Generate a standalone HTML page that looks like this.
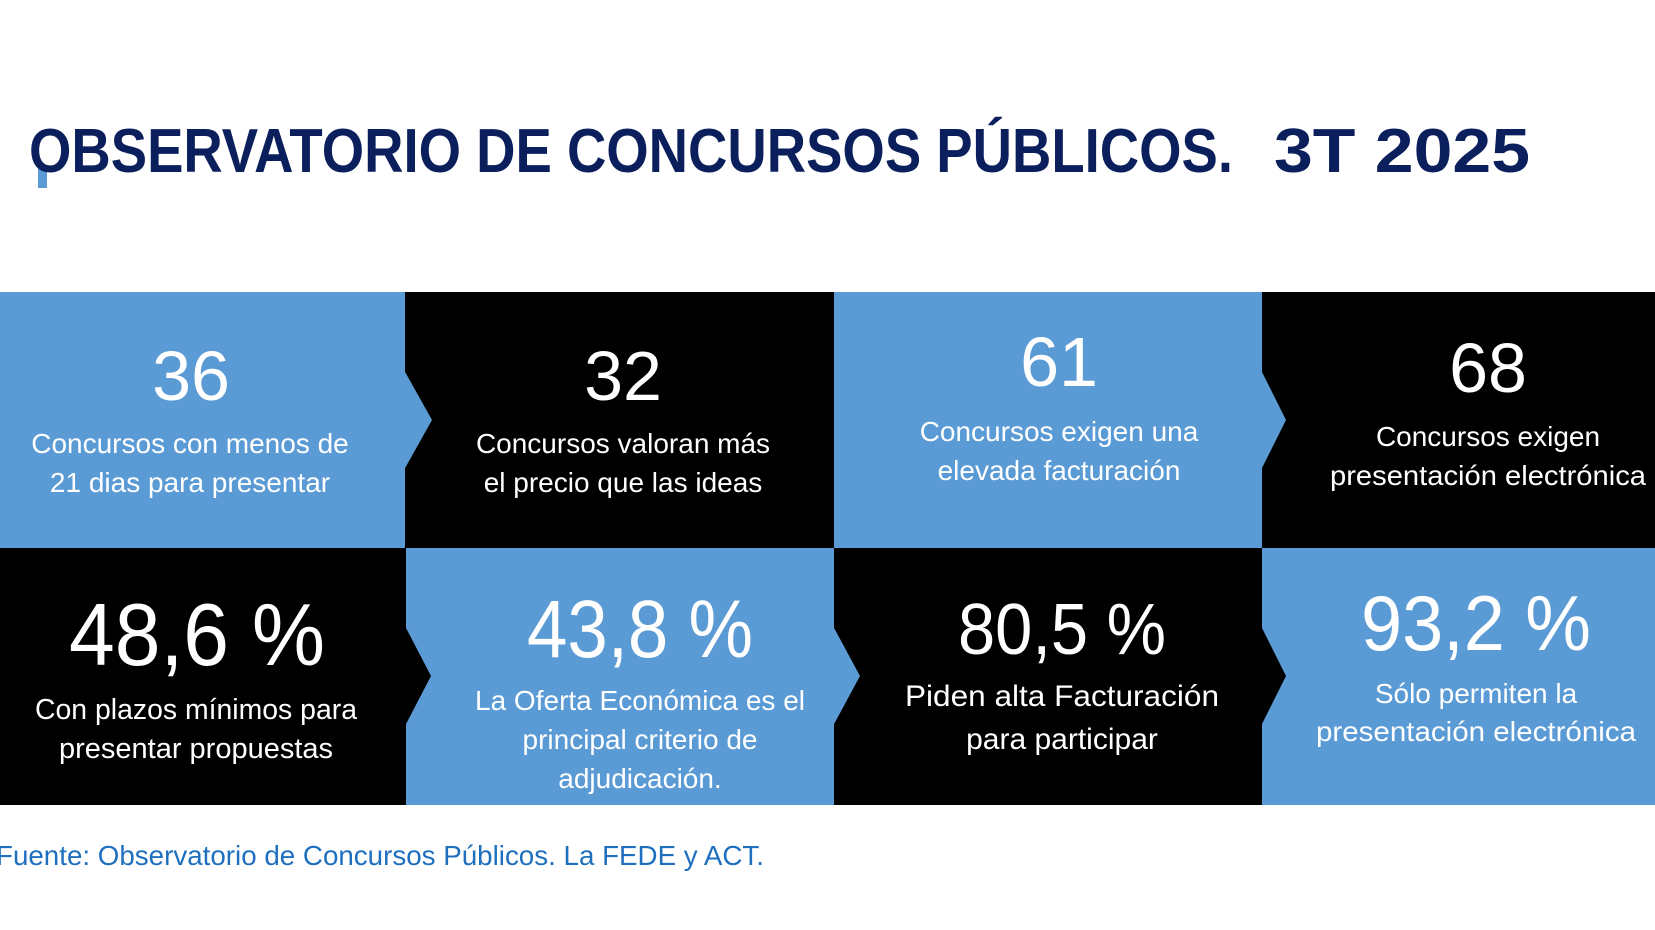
<!DOCTYPE html>
<html><head><meta charset="utf-8"><style>
html,body{margin:0;padding:0;background:#fff;}
svg{display:block;font-family:"Liberation Sans",sans-serif;}
</style></head><body>
<svg width="1655" height="930" viewBox="0 0 1655 930">
<rect x="0" y="0" width="1655" height="930" fill="#fff"/>
<rect x="38" y="166" width="9" height="22" fill="#5b9bd5"/>
<text x="29" y="172" font-size="62" font-weight="bold" fill="#0a1f5c" textLength="1204" lengthAdjust="spacingAndGlyphs">OBSERVATORIO DE CONCURSOS PÚBLICOS.</text>
<text x="1274" y="172" font-size="62" font-weight="bold" fill="#0a1f5c" textLength="256" lengthAdjust="spacingAndGlyphs">3T 2025</text>

<rect x="0" y="292" width="405" height="256" fill="#5b9bd5"/>
<rect x="405" y="292" width="429" height="256" fill="#000"/>
<rect x="834" y="292" width="428" height="256" fill="#5b9bd5"/>
<rect x="1262" y="292" width="393" height="256" fill="#000"/>
<rect x="0" y="548" width="406" height="257" fill="#000"/>
<rect x="406" y="548" width="428" height="257" fill="#5b9bd5"/>
<rect x="834" y="548" width="428" height="257" fill="#000"/>
<rect x="1262" y="548" width="393" height="257" fill="#5b9bd5"/>
<polygon points="404,370 432,420 404,470" fill="#5b9bd5"/>
<polygon points="1261,370 1286,420 1261,470" fill="#5b9bd5"/>
<polygon points="405,626 431,676 405,726" fill="#000"/>
<polygon points="833,626 860,676 833,726" fill="#5b9bd5"/>
<polygon points="1261,626 1286,676 1261,726" fill="#000"/>

<g fill="#fff" text-anchor="middle">
<text x="191" y="400" font-size="70">36</text>
<text x="190" y="453" font-size="28">Concursos con menos de</text>
<text x="190" y="492" font-size="28">21 dias para presentar</text>

<text x="623" y="400" font-size="70">32</text>
<text x="623" y="453" font-size="28">Concursos valoran más</text>
<text x="623" y="492" font-size="28">el precio que las ideas</text>

<text x="1059" y="386" font-size="70">61</text>
<text x="1059" y="441" font-size="28">Concursos exigen una</text>
<text x="1059" y="480" font-size="28">elevada facturación</text>

<text x="1488" y="392" font-size="70">68</text>
<text x="1488" y="446" font-size="28">Concursos exigen</text>
<text x="1488" y="485" font-size="28" textLength="316" lengthAdjust="spacingAndGlyphs">presentación electrónica</text>

<text x="197" y="665" font-size="88" textLength="256" lengthAdjust="spacingAndGlyphs">48,6 %</text>
<text x="196" y="719" font-size="29" textLength="322" lengthAdjust="spacingAndGlyphs">Con plazos mínimos para</text>
<text x="196" y="758" font-size="29">presentar propuestas</text>

<text x="640" y="657" font-size="82" textLength="226" lengthAdjust="spacingAndGlyphs">43,8 %</text>
<text x="640" y="710" font-size="28" textLength="330" lengthAdjust="spacingAndGlyphs">La Oferta Económica es el</text>
<text x="640" y="749" font-size="28">principal criterio de</text>
<text x="640" y="788" font-size="28">adjudicación.</text>

<text x="1062" y="654" font-size="72" textLength="208" lengthAdjust="spacingAndGlyphs">80,5 %</text>
<text x="1062" y="706" font-size="30" textLength="314" lengthAdjust="spacingAndGlyphs">Piden alta Facturación</text>
<text x="1062" y="749" font-size="30">para participar</text>

<text x="1476" y="650" font-size="78" textLength="230" lengthAdjust="spacingAndGlyphs">93,2 %</text>
<text x="1476" y="703" font-size="28">Sólo permiten la</text>
<text x="1476" y="741" font-size="28" textLength="320" lengthAdjust="spacingAndGlyphs">presentación electrónica</text>
</g>

<text x="-4" y="865" font-size="28" fill="#1f6fbf" textLength="768" lengthAdjust="spacingAndGlyphs">Fuente: Observatorio de Concursos Públicos. La FEDE y ACT.</text>
</svg>
</body></html>
